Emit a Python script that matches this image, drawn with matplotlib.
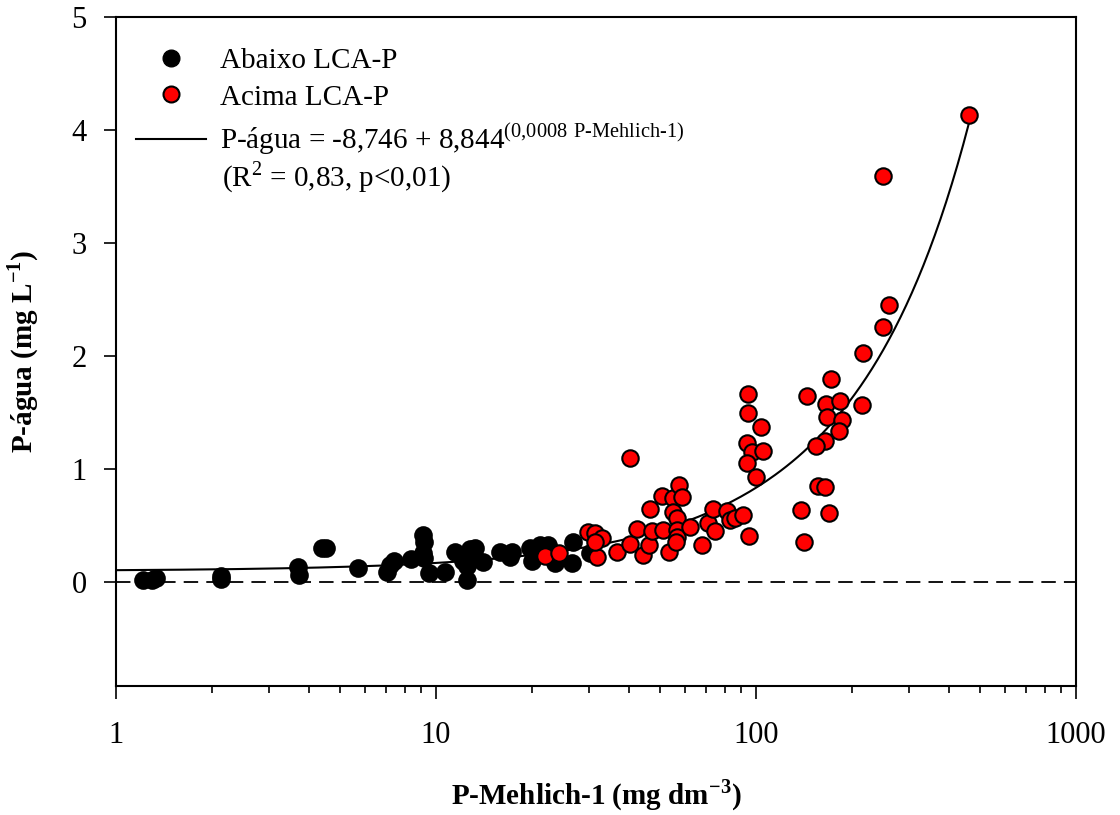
import numpy as np
import matplotlib
matplotlib.use('Agg')
from matplotlib import pyplot as plt
from matplotlib.lines import Line2D

plt.rcParams['font.family'] = ['Liberation Serif', 'DejaVu Serif']
plt.rcParams['mathtext.fontset'] = 'custom'
plt.rcParams['mathtext.rm'] = 'Liberation Serif'
plt.rcParams['mathtext.bf'] = 'Liberation Serif:bold'

# below LCA-P (black)
abaixo_x = [1.21, 1.30, 1.33, 2.13, 2.13, 3.70, 3.73, 4.40, 4.53, 5.70,
            7.03, 7.18, 7.39, 8.35, 9.17, 9.10, 9.17, 9.10, 9.5, 10.7,
            11.5, 12.1, 12.5, 12.5, 12.8, 13.2, 13.2, 14.0, 15.8, 17.0,
            17.3, 19.7, 19.9, 21.1, 22.4, 23.0, 23.5, 26.8, 26.6, 30.3]
abaixo_y = [0.02, 0.02, 0.04, 0.05, 0.03, 0.13, 0.06, 0.30, 0.30, 0.12,
            0.09, 0.15, 0.19, 0.20, 0.21, 0.42, 0.35, 0.26, 0.08, 0.09,
            0.27, 0.19, 0.02, 0.14, 0.29, 0.30, 0.21, 0.18, 0.27, 0.22,
            0.27, 0.30, 0.19, 0.33, 0.33, 0.27, 0.17, 0.35, 0.17, 0.26]

# above LCA-P (red)
acima_x = [21.9, 24.2, 29.9, 31.4, 33.0, 31.9, 31.4, 36.8, 40.4, 42.5,
           44.3, 46.3, 46.6, 47.3, 50.9, 51.2, 53.5, 55.0, 55.0, 56.6,
           56.6, 56.6, 56.2, 57.5, 58.7, 62.2, 67.8, 70.8, 73.4, 74.5,
           81.2, 82.9, 86.0, 91.1, 95.1, 40.4, 94.4, 94.4, 103.7, 93.7,
           97.2, 105.2, 93.7, 100.0, 144.3, 171.5, 165.5, 183.0, 214.4, 166.7,
           185.7, 181.6, 164.3, 154.0, 156.3, 164.3, 138.2, 169.1, 141.3, 216.0,
           249.5, 260.5, 249.5, 463.0]
acima_y = [0.23, 0.26, 0.44, 0.43, 0.39, 0.22, 0.35, 0.27, 0.34, 0.47,
           0.24, 0.33, 0.65, 0.45, 0.76, 0.46, 0.27, 0.74, 0.62, 0.57,
           0.46, 0.40, 0.35, 0.86, 0.75, 0.49, 0.33, 0.52, 0.65, 0.45,
           0.63, 0.55, 0.57, 0.59, 0.41, 1.10, 1.66, 1.50, 1.37, 1.23,
           1.15, 1.16, 1.05, 0.93, 1.65, 1.80, 1.58, 1.60, 1.57, 1.46,
           1.43, 1.34, 1.25, 1.20, 0.85, 0.84, 0.64, 0.61, 0.35, 2.03,
           2.26, 2.45, 3.59, 4.13]

# fitted model P-agua = a + b*exp(c*x)
a, b, c = -8.746, 8.844, 0.0008
fit_x = np.logspace(0, np.log10(463), 300)
fit_y = a + b * np.exp(c * fit_x)

fig = plt.figure(figsize=(11.2, 8.15), dpi=100)
ax = fig.add_axes([0.1036, 0.1583, 0.8571, 0.8207])

ax.axhline(0, color='black', lw=1.3, ls=(0, (8, 4.5)), zorder=1)
ax.plot(fit_x, fit_y, color='black', lw=1.5, zorder=2)
ax.scatter(abaixo_x, abaixo_y, s=150, c='black', edgecolors='black', lw=1.2, zorder=3)
ax.scatter(acima_x, acima_y, s=140, c='#ff0000', edgecolors='black', lw=1.5, zorder=4)

ax.set_xscale('log')
ax.set_xlim(1, 1000)
ax.set_ylim(-0.92, 5)
ax.set_yticks([0, 1, 2, 3, 4, 5])
ax.set_xticks([1, 10, 100, 1000])
ax.set_xticklabels(['1', '10', '100', '1000'])
ax.tick_params(axis='both', which='major', direction='out', length=9, width=1.2,
               labelsize=22, pad=12)
ax.tick_params(axis='x', which='minor', direction='out', length=5, width=1.2)
ax.tick_params(axis='x', which='major', pad=16)
for sp in ax.spines.values():
    sp.set_linewidth(1.5)

ax.set_xlabel('P-Mehlich-1 (mg dm$^{\\mathbf{-3}}$)', fontsize=21, fontweight='bold', labelpad=20)
ax.set_ylabel('P-água (mg L$^{\\mathbf{-1}}$)', fontsize=21, fontweight='bold', labelpad=22)

handles = [
    Line2D([], [], marker='o', ls='none', mfc='black', mec='black', ms=12),
    Line2D([], [], marker='o', ls='none', mfc='#ff0000', mec='black', ms=11.5, mew=1.5),
    Line2D([], [], color='black', lw=1.5),
]
labels = ['Abaixo LCA-P', 'Acima LCA-P',
          'P-água = -8,746 + 8,844$^{(0{,}0008\\ \\mathrm{P\\text{-}Mehlich\\text{-}1})}$']
ax.legend(handles, labels, loc='upper left', frameon=False, fontsize=21,
          handlelength=2.4, handletextpad=0.45, labelspacing=0.35,
          borderaxespad=0.3, bbox_to_anchor=(0.0, 0.985))
ax.text(0.110, 0.761, '(R$^2$ = 0,83, p<0,01)', transform=ax.transAxes,
        fontsize=21, ha='left', va='center')

fig.savefig('out.png', dpi=100)
